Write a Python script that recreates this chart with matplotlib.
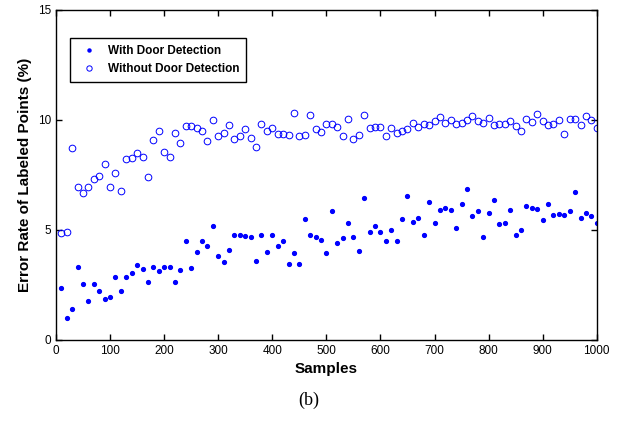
import numpy as np
import matplotlib
matplotlib.use('Agg')
import matplotlib.pyplot as plt

plt.rcParams['font.family'] = ['Liberation Sans', 'DejaVu Sans']

samples = np.arange(10, 1001, 10)

with_door = [2.38, 0.98, 1.42, 3.30, 2.56, 1.77, 2.56, 2.21, 1.86, 1.94,
             2.86, 2.24, 2.86, 3.06, 3.41, 3.23, 2.65, 3.33, 3.12, 3.33,
             3.30, 2.65, 3.17, 4.48, 3.26, 3.98, 4.48, 4.26, 5.17, 3.82,
             3.53, 4.09, 4.79, 4.76, 4.73, 4.70, 3.58, 4.79, 3.98, 4.79,
             4.26, 4.48, 3.47, 3.94, 3.44, 5.48, 4.76, 4.70, 4.52, 3.97,
             5.85, 4.42, 4.64, 5.30, 4.67, 4.06, 6.45, 4.89, 5.17, 4.92,
             4.50, 5.00, 4.50, 5.48, 6.56, 5.36, 5.55, 4.79, 6.29, 5.30,
             5.89, 5.98, 5.89, 5.11, 6.20, 6.88, 5.65, 5.85, 4.70, 5.76,
             6.36, 5.27, 5.30, 5.92, 4.79, 5.00, 6.09, 5.98, 5.95, 5.44,
             6.20, 5.68, 5.74, 5.68, 5.85, 6.74, 5.55, 5.77, 5.65, 5.30]

without_door = [4.88, 4.90, 8.74, 6.94, 6.67, 6.97, 7.33, 7.44, 8.00, 6.94,
                7.59, 6.77, 8.23, 8.29, 8.50, 8.30, 7.41, 9.10, 9.48, 8.53,
                8.33, 9.42, 8.97, 9.73, 9.74, 9.62, 9.48, 9.02, 10.00, 9.26,
                9.39, 9.79, 9.15, 9.29, 9.59, 9.18, 8.77, 9.83, 9.48, 9.65,
                9.38, 9.35, 9.33, 10.33, 9.26, 9.32, 10.24, 9.59, 9.45, 9.83,
                9.80, 9.68, 9.29, 10.03, 9.15, 9.32, 10.24, 9.62, 9.70, 9.70,
                9.29, 9.65, 9.42, 9.51, 9.59, 9.86, 9.70, 9.83, 9.79, 9.97,
                10.15, 9.86, 9.98, 9.80, 9.86, 10.02, 10.20, 9.95, 9.86, 10.11,
                9.79, 9.82, 9.83, 9.97, 9.73, 9.51, 10.06, 9.91, 10.27, 9.95,
                9.76, 9.83, 10.00, 9.38, 10.03, 10.06, 9.79, 10.18, 10.00, 9.65]

fig = plt.figure(figsize=(6.18, 4.33), dpi=100)
ax = fig.add_axes([0.0906, 0.215, 0.875, 0.762])

ax.plot(samples, with_door, linestyle='none', marker='.', markersize=5.5,
        color='#0000ff', label='With Door Detection')
ax.plot(samples, without_door, linestyle='none', marker='o', markersize=4.8,
        markerfacecolor='none', markeredgecolor='#0000ff', markeredgewidth=0.7,
        label='Without Door Detection')

ax.set_xlim(0, 1000)
ax.set_ylim(0, 15)
ax.set_xticks(np.arange(0, 1001, 100))
ax.set_yticks([0, 5, 10, 15])
ax.tick_params(direction='in', top=True, right=True, labelsize=8.5, length=4, width=1)
for s in ax.spines.values():
    s.set_linewidth(1)

ax.set_xlabel('Samples', fontsize=11, fontweight='bold', labelpad=4)
ax.set_ylabel('Error Rate of Labeled Points (%)', fontsize=11, fontweight='bold', labelpad=4)

leg = ax.legend(loc='upper left', bbox_to_anchor=(0.026, 0.915), borderaxespad=0,
                fancybox=False, edgecolor='black', framealpha=1,
                prop={'weight': 'bold', 'size': 8.5},
                markerscale=0.8, handletextpad=0.6, borderpad=0.6, labelspacing=0.5)
leg.get_frame().set_linewidth(1)

fig.text(0.5, 0.075, '(b)', ha='center', va='center', fontsize=13,
         family=['Liberation Serif', 'DejaVu Serif'])

fig.savefig('out.png', dpi=100)
